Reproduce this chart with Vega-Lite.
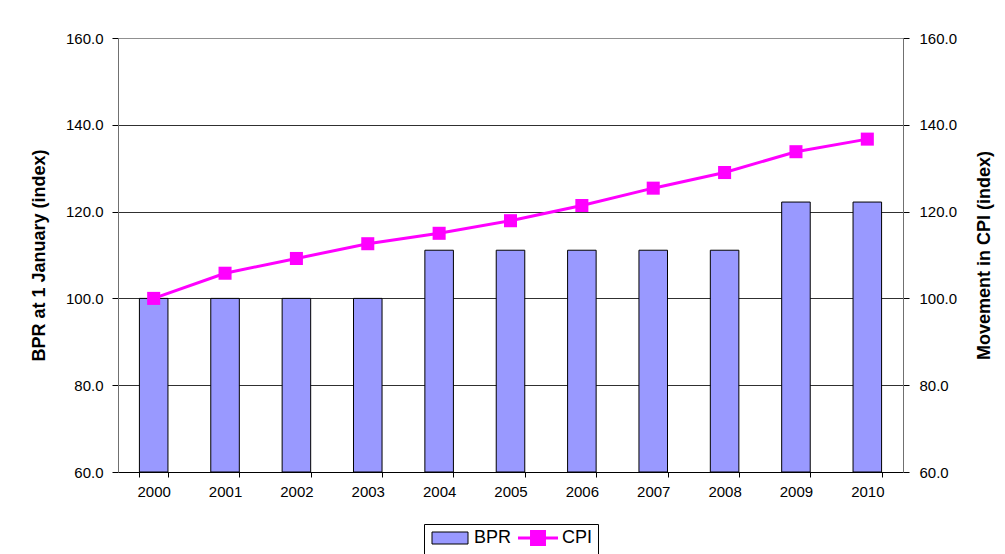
{
  "$schema": "https://vega.github.io/schema/vega-lite/v6.json",
  "width": 785,
  "height": 434,
  "autosize": {"type": "none"},
  "padding": {"left": 118, "top": 38, "right": 102, "bottom": 82},
  "background": "white",
  "config": {
    "view": {"stroke": null},
    "font": "Liberation Sans",
    "axis": {"labelFont": "Liberation Sans", "titleFont": "Liberation Sans", "labelColor": "black", "titleColor": "black"}
  },
  "data": {
    "values": [
      {"year": "2000", "BPR": 100.0, "CPI": 100.0},
      {"year": "2001", "BPR": 100.0, "CPI": 105.8},
      {"year": "2002", "BPR": 100.0, "CPI": 109.2},
      {"year": "2003", "BPR": 100.0, "CPI": 112.6},
      {"year": "2004", "BPR": 111.1, "CPI": 115.0},
      {"year": "2005", "BPR": 111.1, "CPI": 117.9},
      {"year": "2006", "BPR": 111.1, "CPI": 121.4},
      {"year": "2007", "BPR": 111.1, "CPI": 125.4},
      {"year": "2008", "BPR": 111.1, "CPI": 129.0},
      {"year": "2009", "BPR": 122.2, "CPI": 133.8},
      {"year": "2010", "BPR": 122.2, "CPI": 136.7}
    ]
  },
  "encoding": {
    "x": {
      "field": "year",
      "type": "ordinal",
      "scale": {"paddingInner": 0.6, "paddingOuter": 0.3},
      "axis": {
        "title": null,
        "labelAngle": 0,
        "labelFontSize": 15,
        "labelPadding": 7,
        "tickBand": "extent",
        "tickSize": 5,
        "tickColor": "black",
        "domainColor": "black",
        "domainWidth": 1
      }
    }
  },
  "layer": [
    {
      "mark": {"type": "bar", "stroke": "black", "strokeWidth": 1},
      "encoding": {
        "y": {
          "field": "BPR",
          "type": "quantitative",
          "scale": {"domain": [60, 160], "zero": false, "nice": false},
          "axis": {
            "orient": "left",
            "title": "BPR at 1 January (index)",
            "titleFontSize": 18,
            "titleFontWeight": "bold",
            "titlePadding": 17,
            "format": ".1f",
            "values": [60, 80, 100, 120, 140, 160],
            "labelFontSize": 15,
            "labelPadding": 9,
            "tickSize": 6,
            "tickColor": "black",
            "domainColor": "#707070",
            "grid": true,
            "gridColor": {"condition": {"test": "datum.value == 160", "value": "#909090"}, "value": "#303030"},
            "gridWidth": 1
          }
        },
        "y2": {"datum": 60},
        "color": {
          "datum": "BPR",
          "type": "nominal",
          "scale": {"domain": ["BPR"], "range": ["#9999FF"]},
          "legend": {
            "title": null,
            "orient": "none",
            "direction": "horizontal",
            "legendX": 306,
            "legendY": 486,
            "padding": 5,
            "labelFontSize": 18,
            "labelFont": "Liberation Sans",
            "labelColor": "black",
            "symbolType": "M-3,-1H3V1H-3Z",
            "symbolSize": 144,
            "symbolOffset": 12,
            "symbolStrokeColor": "black",
            "symbolStrokeWidth": 1,
            "symbolOpacity": 1,
            "labelOffset": 15
          }
        }
      }
    },
    {
      "mark": {
        "type": "line",
        "color": "#FF00FF",
        "strokeWidth": 3,
        "point": {"shape": "square", "size": 170, "filled": true, "opacity": 1, "color": "#FF00FF", "strokeWidth": 0}
      },
      "encoding": {
        "y": {
          "field": "CPI",
          "type": "quantitative",
          "scale": {"domain": [60, 160], "zero": false, "nice": false},
          "axis": {
            "orient": "right",
            "title": "Movement in CPI (index)",
            "titleAngle": 270,
            "titleBaseline": "top",
            "titleFontSize": 18,
            "titleFontWeight": "bold",
            "titlePadding": 19,
            "format": ".1f",
            "values": [60, 80, 100, 120, 140, 160],
            "labelFontSize": 15,
            "labelPadding": 10,
            "tickSize": 6,
            "tickColor": "black",
            "domainColor": "#707070",
            "grid": false
          }
        },
        "stroke": {
          "datum": "CPI",
          "type": "nominal",
          "scale": {"domain": ["CPI"], "range": ["#FF00FF"]},
          "legend": {
            "title": null,
            "orient": "none",
            "direction": "horizontal",
            "legendX": 306,
            "legendY": 486,
            "strokeColor": "black",
            "padding": 5,
            "labelFontSize": 18,
            "labelFont": "Liberation Sans",
            "labelColor": "black",
            "symbolType": "M-3.333,0H3.333M-1.08,-1.08H1.08V1.08H-1.08Z",
            "symbolSize": 144,
            "symbolOffset": 100,
            "symbolFillColor": "#FF00FF",
            "symbolStrokeWidth": 3,
            "symbolOpacity": 1,
            "labelOffset": 15
          }
        }
      }
    }
  ],
  "resolve": {"scale": {"y": "independent"}}
}
